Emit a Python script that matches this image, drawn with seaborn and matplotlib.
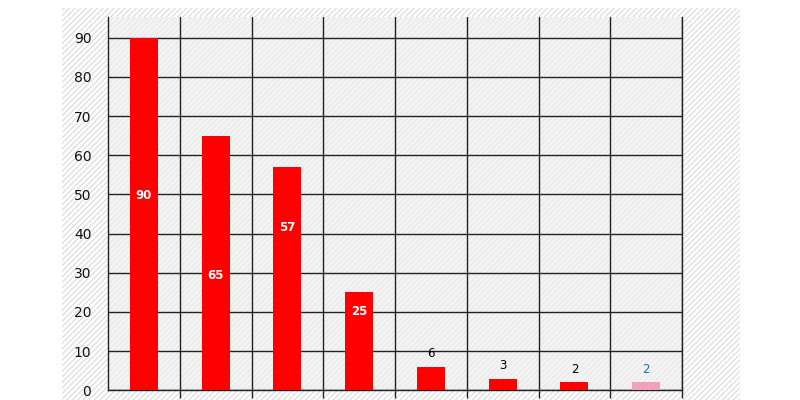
import matplotlib
matplotlib.use("Agg")
import matplotlib.pyplot as plt
import matplotlib.ticker as mticker
from matplotlib.patches import Rectangle
import pandas as pd
import seaborn as sns

# data
categories = ["c1", "c2", "c3", "c4", "c5", "c6", "c7", "c8"]
values = [90, 65, 57, 25, 6, 3, 2, 2]
bar_colors = ["#ff0000"] * 7 + ["#f2a0c0"]
label_colors = ["white"] * 4 + ["black"] * 3 + ["#2a6a9a"]
inside_frac = [0.553, 0.45, 0.73, 0.80]   # where the in-bar labels sit, fraction of height
y_ticks = list(range(0, 100, 10))

df = pd.DataFrame({"cat": categories, "val": values})

sns.set_theme(style="white")
plt.rcParams["font.family"] = ["DejaVu Sans"]
plt.rcParams["hatch.linewidth"] = 0.7

fig = plt.figure(figsize=(8, 4), dpi=100)

# hatched backdrop behind the whole chart
fig.patches.append(Rectangle((0.0775, -0.05), 0.8475, 1.03, transform=fig.transFigure,
                             facecolor="white", edgecolor="#d6d6d6", hatch="//////",
                             linewidth=0, zorder=-10))

ax = fig.add_axes([0.135, 0.02425, 0.7175, 0.9325])
ax.patch.set_facecolor("#ededed")
ax.add_patch(Rectangle((0, 0), 1, 1, transform=ax.transAxes, facecolor="none",
                       edgecolor="#fafafa", hatch="//////", linewidth=0, zorder=0))

sns.barplot(data=df, x="cat", y="val", hue="cat", palette=bar_colors,
            width=0.39, saturation=1, legend=False, ax=ax, zorder=3,
            edgecolor="none", linewidth=0)

ax.set_xlim(-0.5, len(categories) - 0.5)
ax.set_ylim(0, 95.2)
ax.set_yticks(y_ticks)
ax.yaxis.set_major_formatter(mticker.FormatStrFormatter("%d"))
ax.set_xticks([i + 0.5 for i in range(len(categories))])
ax.set_xticklabels([])
ax.set_xlabel(""); ax.set_ylabel("")

ax.grid(True, axis="both", color="#222222", linewidth=1.0, zorder=1)
ax.set_axisbelow(True)
ax.tick_params(axis="x", direction="out", length=6, width=1.0, color="#222222", bottom=True)
ax.tick_params(axis="y", length=0, pad=12, labelsize=10, labelcolor="#111111")

ax.spines["top"].set_visible(False)
for s in ["left", "right", "bottom"]:
    ax.spines[s].set_color("#222222")
    ax.spines[s].set_linewidth(1.0)

# value labels
for i, v in enumerate(values):
    if i < len(inside_frac):
        ax.text(i, v * inside_frac[i], str(v), ha="center", va="center",
                color=label_colors[i], fontsize=8.5, fontweight="bold", zorder=5)
    else:
        ax.text(i, v + 3.3, str(v), ha="center", va="center",
                color=label_colors[i], fontsize=8.5, zorder=5)

fig.savefig("out.png", dpi=100)
